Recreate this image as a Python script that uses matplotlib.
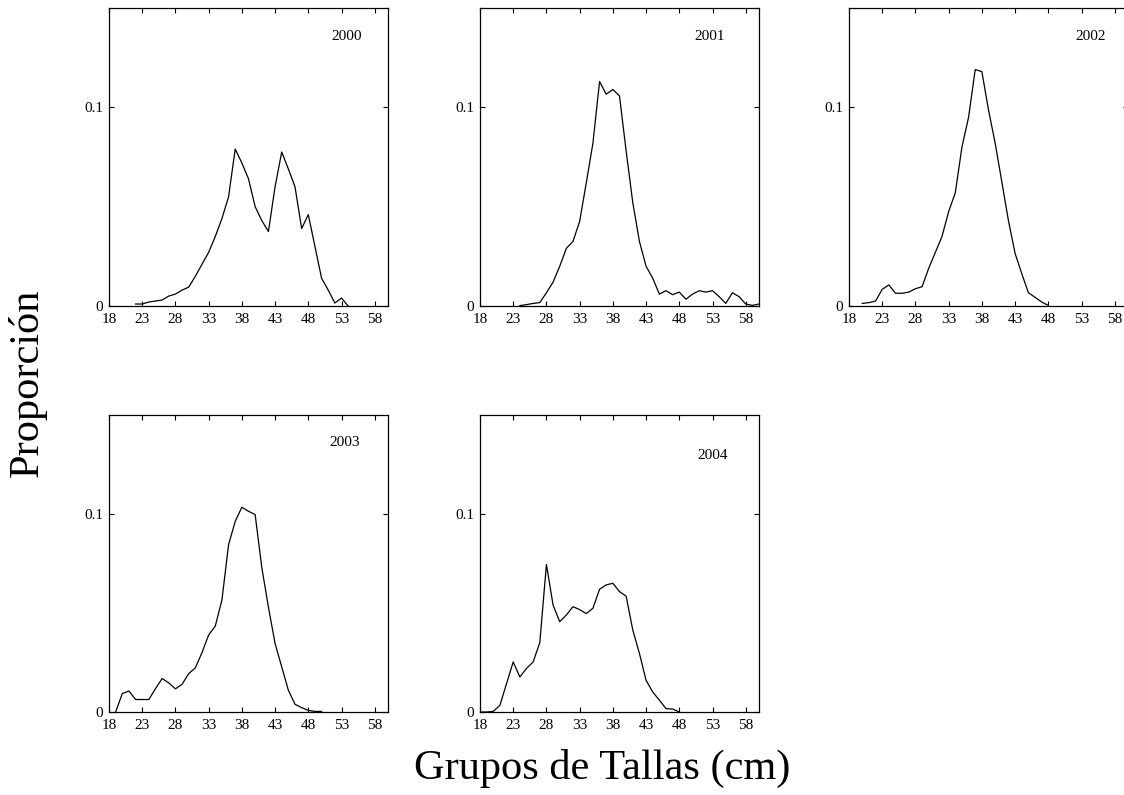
import matplotlib
matplotlib.use('Agg')
from matplotlib import pyplot as plt

plt.rcParams['font.family'] = ['Liberation Serif', 'DejaVu Serif']

years = ['2000', '2001', '2002', '2003', '2004']

x2000 = list(range(22, 55))
y2000 = [0.001, 0.001, 0.002, 0.0025, 0.003, 0.005, 0.006, 0.008, 0.0095, 0.015,
         0.021, 0.027, 0.035, 0.044, 0.055, 0.079, 0.072, 0.064, 0.050, 0.043,
         0.0375, 0.060, 0.0775, 0.069, 0.060, 0.039, 0.046, 0.030, 0.014, 0.008,
         0.0015, 0.004, 0.0]

x2001 = list(range(24, 61))
y2001 = [0.0002, 0.0007, 0.0013, 0.0017, 0.0067, 0.012, 0.020, 0.029, 0.0325, 0.0426,
         0.062, 0.082, 0.113, 0.1066, 0.109, 0.1057, 0.078, 0.052, 0.0325, 0.020,
         0.014, 0.006, 0.0077, 0.0057, 0.007, 0.0034, 0.006, 0.0077, 0.007, 0.0077,
         0.0047, 0.0013, 0.0067, 0.0047, 0.001, 0.0003, 0.001]

x2002 = list(range(20, 49))
y2002 = [0.0013, 0.0017, 0.0025, 0.0084, 0.0106, 0.0064, 0.0064, 0.007, 0.0087, 0.0097,
         0.019, 0.027, 0.035, 0.0475, 0.057, 0.080, 0.095, 0.119, 0.118, 0.0987,
         0.082, 0.0626, 0.043, 0.0265, 0.0164, 0.0067, 0.0044, 0.002, 0.0003]

x2003 = list(range(19, 51))
y2003 = [0.0, 0.0093, 0.0106, 0.0063, 0.0063, 0.0063, 0.0118, 0.0169, 0.0147, 0.0117,
         0.014, 0.0194, 0.0223, 0.030, 0.0389, 0.0434, 0.0566, 0.0845, 0.0963, 0.1034,
         0.1014, 0.0997, 0.073, 0.053, 0.0346, 0.0228, 0.011, 0.0039, 0.0022, 0.0008,
         0.0003, 0.0003]

x2004 = list(range(18, 49))
y2004 = [0.0, 0.0, 0.0003, 0.0034, 0.0144, 0.0253, 0.0177, 0.022, 0.0253, 0.035,
         0.0745, 0.054, 0.0456, 0.049, 0.0532, 0.0517, 0.0497, 0.0524, 0.062, 0.0642,
         0.065, 0.0608, 0.0585, 0.0414, 0.0296, 0.016, 0.0101, 0.006, 0.0017, 0.0015,
         0.0]

xs = [x2000, x2001, x2002, x2003, x2004]
ys = [y2000, y2001, y2002, y2003, y2004]

xticks = [18, 23, 28, 33, 38, 43, 48, 53, 58]
yticks = [0, 0.1]
yticklabels = ['0', '0.1']

# axes boxes in pixels (left, bottom in image coords)
W, H = 1124, 795
boxes = [(109, 306, 298), (480, 306, 298), (849, 306, 298),
         (109, 712, 297), (480, 712, 297)]
label_pos = [(0.853, 0.903), (0.824, 0.903), (0.867, 0.903),
             (0.846, 0.909), (0.832, 0.865)]

fig = plt.figure(figsize=(W / 100, H / 100), dpi=100, facecolor='white')

for i in range(5):
    left, bottom, h = boxes[i]
    ax = fig.add_axes([left / W, (H - bottom) / H, 279 / W, h / H])
    ax.plot(xs[i], ys[i], color='black', linewidth=0.9)
    ax.set_xlim(18, 60)
    ax.set_ylim(0, 0.15)
    ax.set_xticks(xticks)
    ax.set_yticks(yticks)
    ax.set_yticklabels(yticklabels)
    ax.tick_params(direction='in', length=3.5, width=0.8, top=True, right=True,
                   labelsize=11)
    ax.tick_params(axis='x', pad=5)
    ax.tick_params(axis='y', pad=4)
    for s in ax.spines.values():
        s.set_linewidth(0.9)
    ax.text(label_pos[i][0], label_pos[i][1], years[i], transform=ax.transAxes,
            ha='center', va='center', fontsize=11)

fig.text(602 / W, 1 - 768 / H, 'Grupos de Tallas (cm)', ha='center', va='center',
         fontsize=30.5)
fig.text(27 / W, 1 - 383 / H, 'Proporción', ha='center', va='center',
         rotation=90, fontsize=30.5)

fig.savefig('out.png', dpi=100)
